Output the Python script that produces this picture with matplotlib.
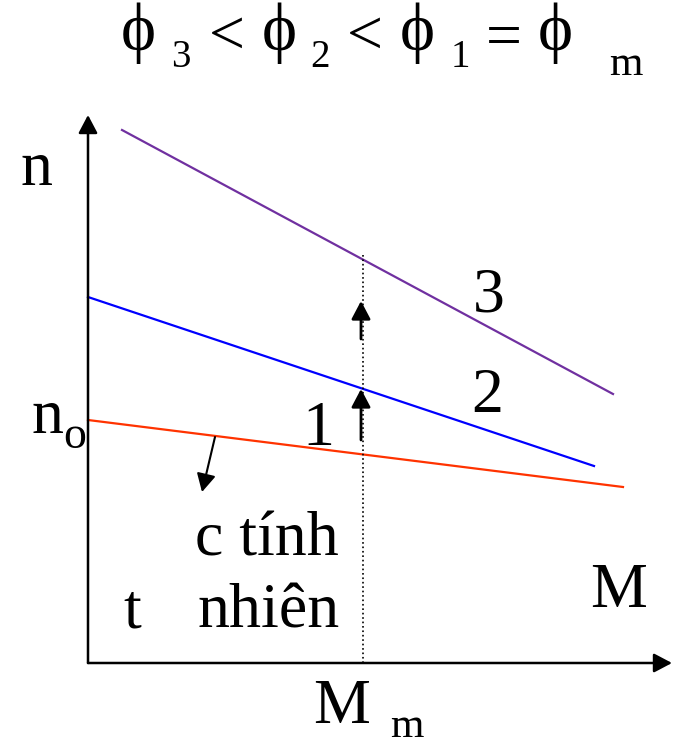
import matplotlib
matplotlib.use('Agg')
import matplotlib.pyplot as plt

plt.rcParams['font.family'] = ['Liberation Serif', 'DejaVu Serif']

# Đặc tính cơ: (M, n) đầu và cuối mỗi đường
M_1 = [0, 535]
n_1 = [243, 176]
M_2 = [0, 506]
n_2 = [366, 197]
M_3 = [34, 525]
n_3 = [533, 269]

M_m = 275
n_top_dotted = 408
M_axis_end = 584
n_axis_end = 548

# mũi tên lên ở M_m
arrow_up = [(223, 274), (324, 362)]
# mũi tên chỉ đường đặc tính tự nhiên
arrow_nat = ((127, 226), (114, 171))

fig = plt.figure(figsize=(6.75, 7.43), dpi=100)
ax = fig.add_axes([0, 0, 1, 1])
ax.set_xlim(-88, 587)
ax.set_ylim(-80, 663)
ax.axis('off')

head = '-|>,head_width=0.58,head_length=1.1'

# trục
ax.annotate('', xy=(0, n_axis_end), xytext=(0, 0),
            arrowprops=dict(arrowstyle=head, color='black', lw=1.8, shrinkA=0, shrinkB=0))
ax.annotate('', xy=(M_axis_end, 0), xytext=(0, 0),
            arrowprops=dict(arrowstyle=head, color='black', lw=1.8, shrinkA=0, shrinkB=0))

ax.plot(M_1, n_1, color='#ff3300', lw=1.6)
ax.plot(M_2, n_2, color='#0000ff', lw=1.6)
ax.plot(M_3, n_3, color='#7030a0', lw=1.6)

ax.plot([M_m, M_m], [0, n_top_dotted], color='black', lw=1.2, linestyle=':')

for n0, n1 in arrow_up:
    ax.annotate('', xy=(M_m - 2, n1), xytext=(M_m - 2, n0),
                arrowprops=dict(arrowstyle=head, color='black', lw=2, shrinkA=0, shrinkB=0))
ax.annotate('', xy=arrow_nat[1], xytext=arrow_nat[0],
            arrowprops=dict(arrowstyle=head, color='black', lw=1.5, shrinkA=0, shrinkB=0))

fs = 46
sub = 31
labels = [(-51, 478, 'n', fs), (-40, 230, 'n', fs), (-13, 215, 'o', 33),
          (401, 351, '3', fs), (399, 251, '2', fs), (230, 218, '1', fs),
          (179, 108, 'c tính', fs), (44, 35, 't', fs), (181, 35, 'nhiên', fs),
          (531, 56, 'M', fs), (254, -60, 'M', fs), (319, -74, 'm', sub)]
for x, y, s, size in labels:
    ax.text(x, y, s, fontsize=size, ha='center', va='baseline')

# tiêu đề
phi = '\u03d5'
title_sym = [(50, phi, 48, 630), (139, '<', fs, 624),
             (191, phi, 48, 630), (277, '<', fs, 624),
             (329, phi, 48, 630), (416, '=', fs, 622),
             (467, phi, 48, 630)]
for x, s, size, y in title_sym:
    ax.text(x, y, s, fontsize=size, ha='center', va='center')
title_sub = [(93, '3'), (232, '2'), (372, '1'), (538, 'm')]
for x, s in title_sub:
    ax.text(x, 596 if s != 'm' else 588, s, fontsize=28 if s != 'm' else sub,
            ha='center', va='baseline')

fig.savefig('out.png', dpi=100)
